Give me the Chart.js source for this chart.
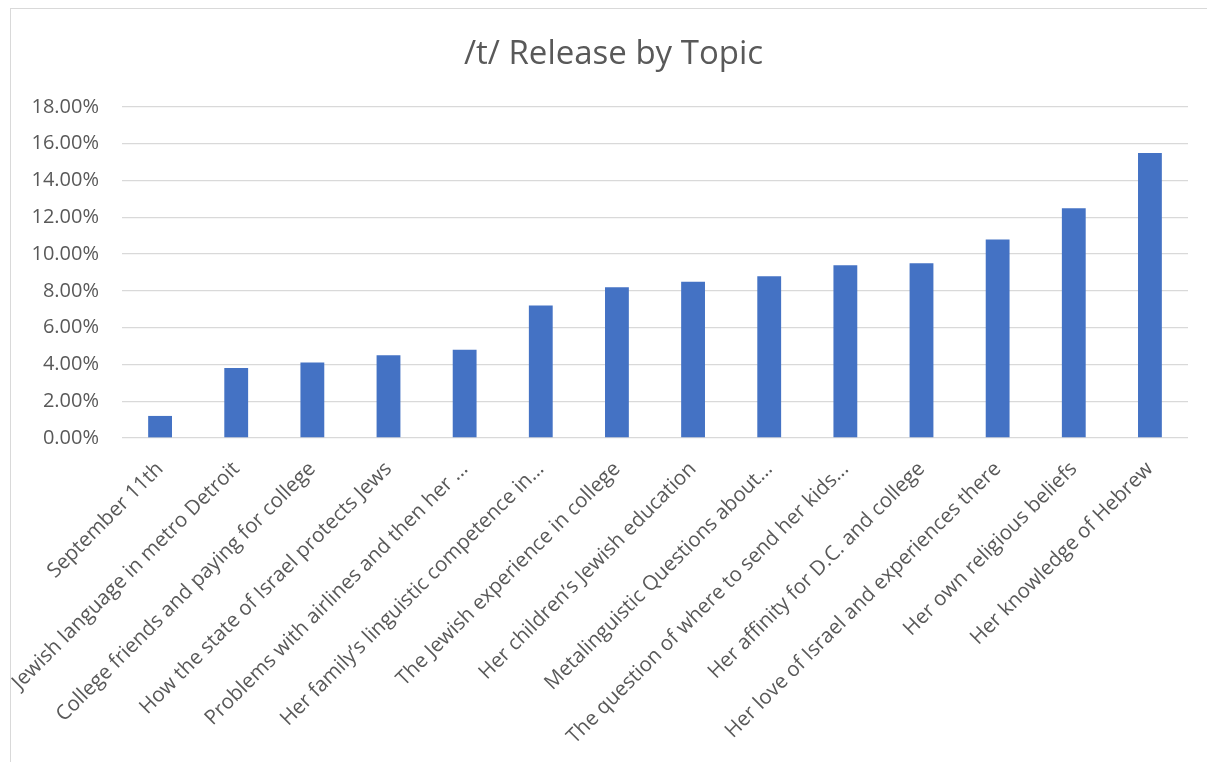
<!DOCTYPE html>
<html>
<head>
<meta charset="utf-8">
<script src="https://cdn.jsdelivr.net/npm/chart.js@4/dist/chart.umd.min.js"></script>
<style>
  html, body { margin: 0; padding: 0; background: #fff; overflow: hidden; }
  .frame {
    position: absolute;
    left: 10px;
    top: 8px;
    width: 1250px;
    height: 800px;
    border: 1px solid #d9d9d9;
    overflow: hidden;
  }
  .frame canvas { display: block; }
</style>
</head>
<body>
<div class="frame">
  <canvas id="chart" width="1196" height="753"></canvas>
</div>
<script>
// topics, in the order they appear on the x axis
const topics = [
  'September 11th',
  'Jewish language in metro Detroit',
  'College friends and paying for college',
  'How the state of Israel protects Jews',
  'Problems with airlines and then her ...',
  'Her family\u2019s linguistic competence in...',
  'The Jewish experience in college',
  'Her children\u2019s Jewish education',
  'Metalinguistic Questions about...',
  'The question of where to send her kids...',
  'Her affinity for D.C. and college',
  'Her love of Israel and experiences there',
  'Her own religious beliefs',
  'Her knowledge of Hebrew'
];

// share of /t/ release per topic, in percent
const releasePct = [1.2, 3.8, 4.1, 4.5, 4.8, 7.2, 8.2, 8.5, 8.8, 9.4, 9.5, 10.8, 12.5, 15.5];

const yMin = 0;
const yMax = 18;
const yStep = 2;

const grey = '#595959';
const font = "'Open Sans', sans-serif";

const canvas = document.getElementById('chart');
canvas.style.width = '1196px';
canvas.style.height = '753px';

// Excel centres the title a bit right of the plot-area centre; nudge the title box
const titleNudge = {
  id: 'titleNudge',
  afterLayout(chart) {
    if (chart.titleBlock) chart.titleBlock.left += 28;
  }
};

new Chart(canvas.getContext('2d'), {
  type: 'bar',
  data: {
    labels: topics,
    datasets: [{
      label: '/t/ Release',
      data: releasePct,
      backgroundColor: '#4472C4',
      borderWidth: 0,
      barPercentage: 0.313,
      categoryPercentage: 1
    }]
  },
  options: {
    responsive: false,
    animation: false,
    devicePixelRatio: 1,
    layout: { padding: { left: 0, right: 19, top: 0, bottom: 0 } },
    plugins: {
      legend: { display: false },
      tooltip: { enabled: false },
      title: {
        display: true,
        text: '/t/ Release by Topic',
        color: grey,
        font: { family: font, size: 33, weight: 'normal', lineHeight: 1.2 },
        padding: { top: 26, bottom: 32.4 }
      }
    },
    scales: {
      x: {
        grid: { display: false, drawTicks: false },
        border: { display: false },
        ticks: {
          color: grey,
          font: { family: font, size: 20.5 },
          autoSkip: false,
          maxRotation: 45,
          minRotation: 45,
          padding: 19
        },
        afterFit(scale) {
          scale.height = 324;
          scale.paddingLeft = 0;
          scale.paddingRight = 0;
        }
      },
      y: {
        min: yMin,
        max: yMax,
        grid: { color: '#d9d9d9', lineWidth: 1.3, drawTicks: false },
        border: { display: false },
        ticks: {
          stepSize: yStep,
          color: grey,
          font: { family: font, size: 20 },
          padding: 23,
          callback: v => v.toFixed(2) + '%'
        },
        afterFit(scale) {
          scale.width = 111;
        }
      }
    }
  },
  plugins: [titleNudge]
});
</script>
</body>
</html>
